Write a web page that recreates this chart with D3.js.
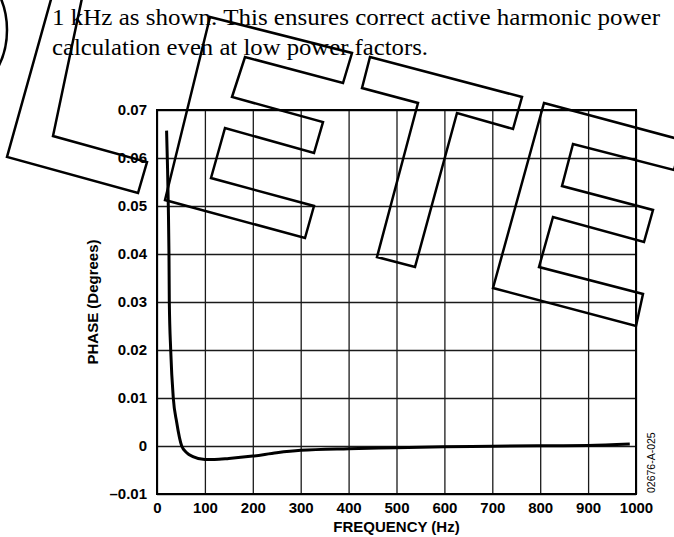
<!DOCTYPE html>
<html>
<head>
<meta charset="utf-8">
<script src="https://cdn.jsdelivr.net/npm/d3@7"></script>
<style>
  body { margin: 0; background: #fff; }
  svg { display: block; }
</style>
</head>
<body>
<div class="chart"></div>
<script>
// phase error vs frequency
const freqHz = [20, 22, 23.6, 25, 25.7, 28.6, 34, 41, 51.6, 62, 75, 100, 120, 150, 200, 250, 300, 400, 500, 600, 700, 800, 900, 987];
const phaseDeg = [0.0657, 0.058, 0.050, 0.040, 0.030, 0.020, 0.010, 0.005, 0.0, -0.0014, -0.0022, -0.0028, -0.0028, -0.0026, -0.0021, -0.0014, -0.0009, -0.00055, -0.00035, -0.00015, -0.00006, 0.00005, 0.0001, 0.0004];

const xTicks = [0, 100, 200, 300, 400, 500, 600, 700, 800, 900, 1000];
const xTickLabels = ['0', '100', '200', '300', '400', '500', '600', '700', '800', '900', '1000'];
const yTicks = [-0.01, 0, 0.01, 0.02, 0.03, 0.04, 0.05, 0.06, 0.07];
const yTickLabels = ['\u20130.01', '0', '0.01', '0.02', '0.03', '0.04', '0.05', '0.06', '0.07'];

const textLines = [
  '1 kHz as shown. This ensures correct active harmonic power',
  'calculation even at low power factors.'
];

let W = 674, H = 537;
let margin = {top: 110, right: 38, bottom: 43, left: 157};
let w = W - margin.left - margin.right;
let h = H - margin.top - margin.bottom;

let svg = d3.select('.chart').append('svg')
  .attr('width', W)
  .attr('height', H);

// paragraph text above the figure
svg.append('g')
  .selectAll('text')
  .data(textLines)
  .enter().append('text')
    .attr('x', 52)
    .attr('y', (d, i) => 25 + i * 30)
    .attr('font-family', '"Liberation Serif", "DejaVu Serif", serif')
    .attr('font-size', 24)
    .attr('textLength', (d, i) => i === 0 ? 608 : 376)
    .attr('lengthAdjust', 'spacingAndGlyphs')
    .text(d => d);

let g = svg.append('g')
  .attr('transform', `translate(${margin.left},${margin.top})`);

let x = d3.scaleLinear().domain([0, 1000]).range([0, w]);
let y = d3.scaleLinear().domain([-0.01, 0.07]).range([h, 0]);

let font = '"Liberation Sans", Arial, sans-serif';

// grid + tick labels
let xAxis = g.append('g')
  .attr('transform', `translate(0,${h})`)
  .call(d3.axisBottom(x).tickValues(xTicks).tickSizeInner(-h).tickSizeOuter(0).tickPadding(8)
    .tickFormat((d, i) => xTickLabels[i]));

let yAxis = g.append('g')
  .call(d3.axisLeft(y).tickValues(yTicks).tickSizeInner(-w).tickSizeOuter(0).tickPadding(10)
    .tickFormat((d, i) => yTickLabels[i]));

[xAxis, yAxis].forEach(a => {
  a.select('.domain').remove();
  a.selectAll('line').attr('stroke', '#1a1a1a').attr('stroke-width', 1.3);
  a.selectAll('text')
    .attr('font-family', font)
    .attr('font-weight', 'bold')
    .attr('font-size', 15)
    .attr('fill', '#000');
});

// frame
g.append('rect')
  .attr('width', w)
  .attr('height', h)
  .attr('fill', 'none')
  .attr('stroke', '#000')
  .attr('stroke-width', 2);

// curve
let line = d3.line()
  .x((d, i) => x(freqHz[i]))
  .y(d => y(d))
  .curve(d3.curveMonotoneX);

g.append('path')
  .datum(phaseDeg)
  .attr('fill', 'none')
  .attr('stroke', '#000')
  .attr('stroke-width', 3)
  .attr('stroke-linejoin', 'round')
  .attr('d', line);

// axis titles
svg.append('text')
  .attr('x', margin.left + w / 2)
  .attr('y', 532)
  .attr('text-anchor', 'middle')
  .attr('font-family', font)
  .attr('font-weight', 'bold')
  .attr('font-size', 15)
  .text('FREQUENCY (Hz)');

svg.append('text')
  .attr('transform', `translate(98,${margin.top + h / 2}) rotate(-90)`)
  .attr('text-anchor', 'middle')
  .attr('font-family', font)
  .attr('font-weight', 'bold')
  .attr('font-size', 15)
  .text('PHASE (Degrees)');

svg.append('text')
  .attr('transform', `translate(655,493) rotate(-90)`)
  .attr('font-family', font)
  .attr('font-size', 10.5)
  .text('02676-A-025');

// "OBSOLETE" outline watermark
let stamp = svg.append('g')
  .attr('fill', 'none')
  .attr('stroke', '#000')
  .attr('stroke-width', 2.5)
  .attr('stroke-linejoin', 'miter');

stamp.append('ellipse')
  .attr('cx', -60).attr('cy', 30)
  .attr('rx', 67).attr('ry', 74);

const letters = [
  [[62, -40], [7, 157], [138, 193], [147, 162], [53, 136], [90, -40]],
  [[210, 17], [352, 53], [343, 83], [245, 57], [232, 97], [323, 122], [314, 153], [225, 128], [211, 178], [314, 206], [305, 238], [165, 200]],
  [[370, 57], [522, 97], [513, 129], [457, 113], [415, 267], [377, 257], [418, 103], [362, 88]],
  [[544, 103], [682, 140], [674, 170], [573, 144], [562, 186], [653, 210], [644, 242], [553, 217], [539, 267], [643, 294], [636, 326], [493, 288]]
];

stamp.selectAll('path.letter')
  .data(letters)
  .enter().append('path')
    .attr('class', 'letter')
    .attr('d', d => 'M' + d.join('L') + 'Z');
</script>
</body>
</html>
